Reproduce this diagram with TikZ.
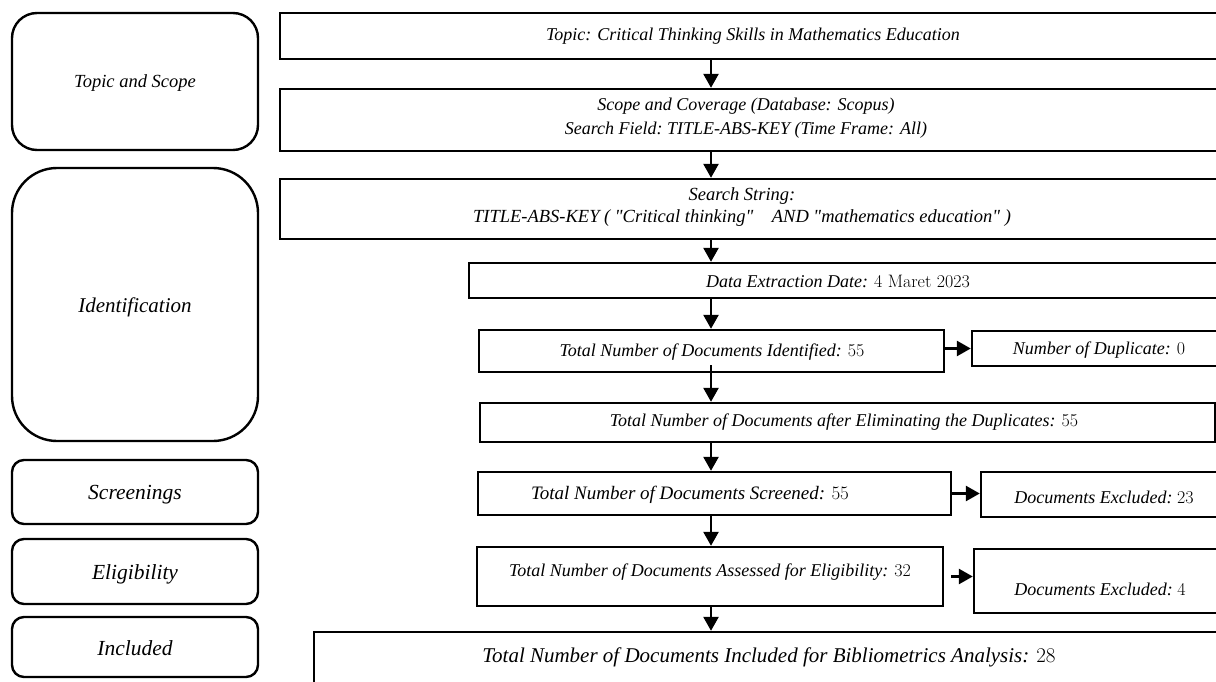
\documentclass[tikz,border=0pt]{standalone}
\usepackage{fontspec}
\newfontfamily\itf{Liberation Serif}
\newcommand{\num}[1]{{\rmfamily\upshape #1}}
\usetikzlibrary{arrows.meta,fit}
\begin{document}
\begin{tikzpicture}[x=1pt,y=-1pt,
  box/.style={draw, line width=2.4pt, inner sep=0pt},
  txt/.style={font=\fontsize{18}{22}\selectfont\itf\itshape, align=center, inner sep=0pt},
  ltxt/.style={font=\fontsize{21.5}{22}\selectfont\itf\itshape, align=center, inner sep=0pt},
  arr/.style={line width=2.6pt, -{Triangle[length=14pt,width=15pt]}}
]
\useasboundingbox (0,0) rectangle (1216,682);
\clip (0,0) rectangle (1216,682);
% left stage boxes
\node[box, rounded corners=25pt, fit={(12,13) (258,150)}] (ts) {};
\node[box, rounded corners=45pt, fit={(12,168) (258,441)}] (idf) {};
\node[box, rounded corners=12pt, fit={(12,460) (258,524)}] (scr) {};
\node[box, rounded corners=12pt, fit={(12,539) (258,604)}] (eli) {};
\node[box, rounded corners=12pt, fit={(12,617) (258,677)}] (inc) {};
\node[ltxt, font=\fontsize{18.5}{22}\selectfont\itf\itshape] (ts-t) at (135,83) {Topic and Scope};
\node[ltxt, font=\fontsize{21}{22}\selectfont\itf\itshape] (idf-t) at (135,307) {Identification};
\node[ltxt] (scr-t) at (135,495) {Screenings};
\node[ltxt] (eli-t) at (135,574) {Eligibility};
\node[ltxt] (inc-t) at (135,648) {Included};
% flow boxes
\node[box, fit={(280,13) (1240,59)}] (topic) {};
\node[box, fit={(280,89) (1240,151)}] (scope) {};
\node[box, fit={(280,179) (1240,239)}] (search) {};
\node[box, fit={(469,263) (1240,298)}] (data) {};
\node[box, fit={(479,330) (944,372)}] (ident) {};
\node[box, fit={(972,331) (1240,366)}] (dup) {};
\node[box, fit={(480,403) (1215,442)}] (elim) {};
\node[box, fit={(478,472) (951,515)}] (scrn) {};
\node[box, fit={(981,472) (1240,517)}] (excla) {};
\node[box, fit={(477,547) (943,606)}] (elig) {};
\node[box, fit={(974,549) (1240,613)}] (exclb) {};
\node[box, fit={(314,632) (1240,700)}] (final) {};
% texts
\node[txt] (topic-t) at (753,36) {Topic: Critical Thinking Skills in Mathematics Education};
\node[txt, font=\fontsize{18}{24}\selectfont\itf\itshape] (scope-t) at (746,118) {Scope and Coverage (Database: Scopus)\\Search Field:\ TITLE-ABS-KEY (Time Frame: All)};
\node[txt, font=\fontsize{18.5}{22}\selectfont\itf\itshape] (search-t) at (742,207) {Search String:\\TITLE-ABS-KEY ( "Critical thinking"\quad AND "mathematics education" )};
\node[txt] (data-t) at (838,281) {Data Extraction Date: \num{4 Maret\ 2023}};
\node[txt] (ident-t) at (712,352) {Total Number of Documents Identified: \num{55}};
\node[txt] (dup-t) at (1099,350) {Number of Duplicate: \num{0}};
\node[txt] (elim-t) at (844,422) {Total Number of Documents after Eliminating the Duplicates: \num{55}};
\node[txt, font=\fontsize{19}{22}\selectfont\itf\itshape] (scrn-t) at (690,495) {Total Number of Documents Screened: \num{55}};
\node[txt] (excla-t) at (1104,497) {Documents Excluded:\ \num{23}};
\node[txt] (elig-t) at (710,572) {Total Number of Documents Assessed for Eligibility: \num{32}};
\node[txt] (exclb-t) at (1100,589) {Documents Excluded:\ \num{4}};
\node[txt, font=\fontsize{21}{22}\selectfont\itf\itshape] (final-t) at (769,657) {Total Number of Documents Included for Bibliometrics Analysis: \num{28}};
% connectors
\coordinate (ax) at (711,0);
\draw[arr] (topic.south -| ax) -- (scope.north -| ax);
\draw[arr] (scope.south -| ax) -- (search.north -| ax);
\draw[arr] (search.south -| ax) -- (data.north -| ax);
\draw[arr] (data.south -| ax) -- (ident.north -| ax);
\draw[arr] ([yshift=8pt]ident.south -| ax) -- (elim.north -| ax);
\draw[arr] (elim.south -| ax) -- (scrn.north -| ax);
\draw[arr] (scrn.south -| ax) -- (elig.north -| ax);
\draw[arr] (elig.south -| ax) -- (final.north -| ax);
\draw[arr] (dup.west -| ident.east) -- (dup.west);
\draw[arr] (scrn.east) -- (excla.west |- scrn.east);
\draw[arr] ([xshift=7pt]elig.east) -- (exclb.west |- elig.east);
\end{tikzpicture}
\end{document}
